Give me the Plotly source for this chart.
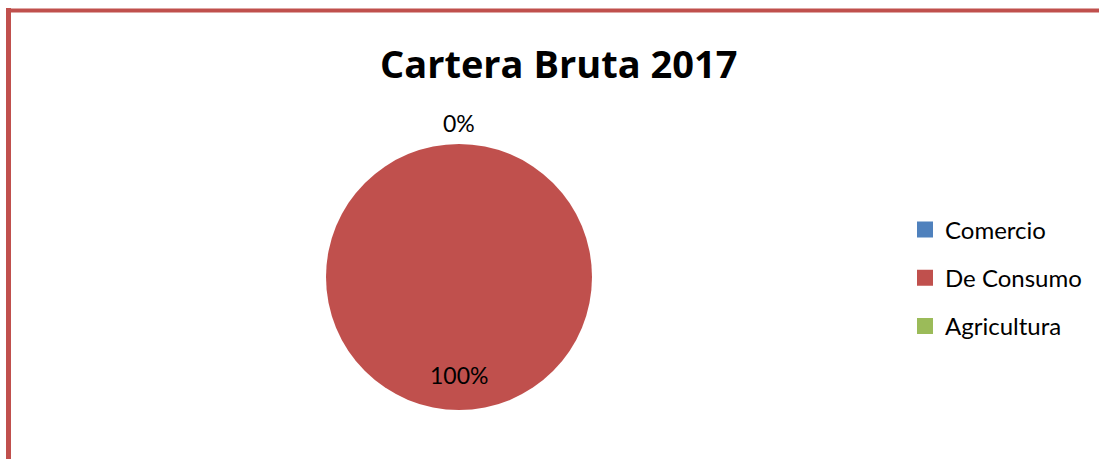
import math
import plotly.graph_objects as go

# Data
categories = ["Comercio", "De Consumo", "Agricultura"]
values = [0, 100, 0]
colors = ["#4F81BD", "#C0504D", "#9BBB59"]
title_text = "Cartera Bruta 2017"

W, H = 1099, 459
FONT = "Lato"
TITLE_FONT = "Open Sans"

# Pie placement (pixels)
cx, cy, r = 459, 277, 133

fig = go.Figure()
fig.add_trace(go.Pie(
    labels=categories,
    values=values,
    marker=dict(colors=colors, line=dict(width=0)),
    sort=False,
    direction="clockwise",
    rotation=0,
    textinfo="none",
    hoverinfo="label+percent",
    showlegend=False,
    domain=dict(x=[(cx - r) / W, (cx + r) / W],
                y=[(H - cy - r) / H, (H - cy + r) / H]),
))

# Legend entries, one group each so the gap between rows can be set
for name, col in zip(categories, colors):
    fig.add_trace(go.Scatter(
        x=[None], y=[None], mode="markers", name=name, legendgroup=name,
        marker=dict(symbol="square", size=16, color=col),
    ))

# Percentage labels placed at each slice's mid-angle
total = sum(values)
annotations = []
seen = set()
start = 0.0
for v in values:
    frac = v / total
    mid = start + frac / 2
    start += frac
    pct = f"{round(frac * 100)}%"
    ang = math.pi / 2 - mid * 2 * math.pi
    rr = 1.16 * r if frac < 0.05 else 0.74 * r
    px = cx + rr * math.cos(ang)
    py = cy - rr * math.sin(ang)
    key = (round(px), round(py))
    if key in seen:
        continue
    seen.add(key)
    annotations.append(dict(
        x=px / W, y=1 - py / H, xref="paper", yref="paper",
        text=pct, showarrow=False, xanchor="center", yanchor="middle",
        font=dict(family=FONT, size=23, color="#000000"),
    ))

annotations.append(dict(
    x=558 / W, y=1 - 63 / H, xref="paper", yref="paper",
    text=f"<b>{title_text}</b>", showarrow=False,
    xanchor="center", yanchor="middle",
    font=dict(family=TITLE_FONT, size=38, color="#000000"),
))

# Chart frame: left and top edges
border = "#C0504D"
shapes = [
    dict(type="line", xref="paper", yref="paper",
         x0=8.5 / W, x1=8.5 / W, y0=0, y1=1 - 8 / H,
         line=dict(color=border, width=5)),
    dict(type="line", xref="paper", yref="paper",
         x0=6 / W, x1=1, y0=1 - 10.5 / H, y1=1 - 10.5 / H,
         line=dict(color=border, width=4)),
]

fig.update_layout(
    width=W, height=H,
    margin=dict(l=0, r=0, t=0, b=0),
    paper_bgcolor="white", plot_bgcolor="white",
    xaxis=dict(visible=False), yaxis=dict(visible=False),
    annotations=annotations,
    shapes=shapes,
    legend=dict(
        x=905 / W, y=1 - 278 / H, xanchor="left", yanchor="middle",
        font=dict(family=FONT, size=24, color="#000000"),
        tracegroupgap=14, bgcolor="rgba(0,0,0,0)",
    ),
)

fig.write_html("out.html")
